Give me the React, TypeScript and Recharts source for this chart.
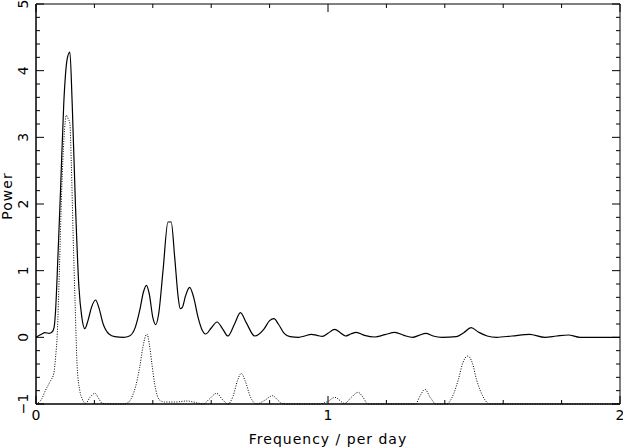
import { LineChart, Line, XAxis, YAxis, Label, ReferenceArea } from "recharts";

// power spectrum (solid)
const specFreq = [
  0.0, 0.02, 0.03, 0.045, 0.055, 0.062, 0.067, 0.075, 0.084, 0.095, 0.107, 0.116, 0.124, 0.135,
  0.147, 0.157, 0.167, 0.178, 0.19, 0.204, 0.215, 0.23, 0.25, 0.27, 0.3, 0.32, 0.34, 0.355,
  0.368, 0.378, 0.388, 0.4, 0.41, 0.42, 0.435, 0.452, 0.463, 0.475, 0.487, 0.494, 0.501, 0.512,
  0.526, 0.54, 0.555, 0.57, 0.581, 0.6, 0.62, 0.64, 0.657, 0.68, 0.7, 0.72, 0.749, 0.78,
  0.8, 0.815, 0.83, 0.85, 0.87, 0.9, 0.92, 0.943, 0.962, 0.981, 1.0, 1.023, 1.042, 1.06,
  1.078, 1.097, 1.125, 1.16, 1.195, 1.229, 1.26, 1.29, 1.312, 1.335, 1.36, 1.39, 1.44, 1.465,
  1.49, 1.515, 1.545, 1.577, 1.63, 1.69, 1.743, 1.783, 1.823, 1.863, 2.0,
];
const specPower = [
  0.0, 0.05, 0.07, 0.06, 0.08, 0.15, 0.4, 1.2, 2.2, 3.5, 4.18, 4.28, 3.5, 2.0,
  0.75, 0.3, 0.13, 0.25, 0.45, 0.56, 0.45, 0.2, 0.05, 0.01, 0.0, 0.02, 0.15, 0.4,
  0.68, 0.78, 0.65, 0.3, 0.19, 0.35, 1.0, 1.73, 1.73, 1.2, 0.6, 0.43, 0.45, 0.62,
  0.75, 0.6, 0.3, 0.1, 0.05, 0.14, 0.23, 0.12, 0.02, 0.2, 0.37, 0.22, 0.02, 0.12,
  0.25, 0.28, 0.2, 0.06, 0.01, 0.0, 0.02, 0.045, 0.03, 0.015, 0.06, 0.12, 0.07, 0.02,
  0.05, 0.075, 0.03, 0.005, 0.04, 0.075, 0.03, 0.0, 0.03, 0.06, 0.02, 0.0, 0.01, 0.07,
  0.145, 0.08, 0.02, 0.0, 0.02, 0.045, 0.0, 0.02, 0.035, 0.0, 0.0,
];

// spectral window (dotted, offset by -1)
const winFreq = [
  0.0, 0.02, 0.033, 0.05, 0.061, 0.067, 0.073, 0.08, 0.088, 0.096, 0.104, 0.11, 0.116, 0.121,
  0.127, 0.134, 0.141, 0.15, 0.158, 0.17, 0.185, 0.202, 0.215, 0.227, 0.26, 0.3, 0.318, 0.33,
  0.341, 0.355, 0.366, 0.375, 0.38, 0.388, 0.397, 0.406, 0.415, 0.423, 0.44, 0.48, 0.515, 0.55,
  0.572, 0.595, 0.618, 0.64, 0.657, 0.675, 0.69, 0.703, 0.716, 0.735, 0.755, 0.785, 0.81, 0.83,
  0.846, 0.97, 1.0, 1.023, 1.057, 1.08, 1.103, 1.12, 1.137, 1.3, 1.315, 1.332, 1.35, 1.37,
  1.406, 1.43, 1.446, 1.462, 1.478, 1.494, 1.509, 1.53, 1.554, 2.0,
];
const winPower = [
  -1.0, -0.92, -0.79, -0.65, -0.54, -0.3, 0.06, 1.0, 2.2, 3.0, 3.33, 3.28, 3.21, 2.6,
  1.56, 0.5, -0.44, -0.8, -0.92, -0.99, -0.9, -0.84, -0.92, -0.99, -1.0, -1.0, -0.97, -0.88,
  -0.74, -0.45, -0.15, 0.02, 0.05, -0.1, -0.4, -0.69, -0.87, -0.94, -0.97, -0.97, -0.955, -0.98,
  -1.0, -0.92, -0.84, -0.94, -1.0, -0.88, -0.65, -0.54, -0.65, -0.9, -1.0, -0.94, -0.876, -0.95,
  -1.0, -1.0, -0.96, -0.9, -0.99, -0.9, -0.825, -0.9, -1.0, -1.0, -0.88, -0.78, -0.9, -1.0,
  -1.0, -0.85, -0.64, -0.38, -0.28, -0.38, -0.64, -0.88, -1.0, -1.0,
];

const xTicks = [0, 0.2, 0.4, 0.6, 0.8, 1, 1.2, 1.4, 1.6, 1.8, 2];
const yTicks = [
  -1, -0.8, -0.6, -0.4, -0.2, 0, 0.2, 0.4, 0.6, 0.8, 1, 1.2, 1.4, 1.6, 1.8, 2,
  2.2, 2.4, 2.6, 2.8, 3, 3.2, 3.4, 3.6, 3.8, 4, 4.2, 4.4, 4.6, 4.8, 5,
];

const spectrum = specFreq.map((f, i) => ({ f, p: specPower[i] }));
const windowFn = winFreq.map((f, i) => ({ f, p: winPower[i] }));

const FONT = "DejaVu Sans";
const W = 623;
const H = 448;
// plot box edges (match the chart margins + axis sizes below)
const LEFT = 36;
const RIGHT = 620;
const TOP = 4;
const BOTTOM = 404;

const MAJOR = 8;
const MINOR = 4;
const isMajor = (v: number) => Math.abs(v - Math.round(v)) < 1e-6;
const tickLen = (v: number) => (isMajor(v) ? MAJOR : MINOR);

// x ticks: inward marks at bottom and top, label below
function XTick({ x, payload }: any) {
  const v = payload.value;
  const len = tickLen(v);
  return (
    <g>
      <line x1={x} y1={BOTTOM} x2={x} y2={BOTTOM - len} stroke="#000" />
      <line x1={x} y1={TOP} x2={x} y2={TOP + len} stroke="#000" />
      {isMajor(v) && (
        <text x={x} y={BOTTOM + 16} textAnchor="middle" fontSize={14} fontFamily={FONT} fill="#000">
          {v}
        </text>
      )}
    </g>
  );
}

// y ticks: inward marks at left and right, rotated label on the left
function YTick({ y, payload }: any) {
  const v = payload.value;
  const len = tickLen(v);
  const lx = LEFT - 8;
  return (
    <g>
      <line x1={LEFT} y1={y} x2={LEFT + len} y2={y} stroke="#000" />
      <line x1={RIGHT} y1={y} x2={RIGHT - len} y2={y} stroke="#000" />
      {isMajor(v) && (
        <text
          x={lx}
          y={y}
          transform={`rotate(-90 ${lx} ${y})`}
          textAnchor="middle"
          fontSize={14}
          fontFamily={FONT}
          fill="#000"
        >
          {v < 0 ? "\u2212" + Math.abs(v) : v}
        </text>
      )}
    </g>
  );
}

export default function App() {
  return (
    <div style={{ position: "absolute", left: 0, top: 0, background: "#fff" }}>
      <LineChart
        width={W}
        height={H}
        margin={{ top: TOP, right: W - RIGHT, bottom: 0, left: 0 }}
      >
        <XAxis
          dataKey="f"
          type="number"
          domain={[0, 2]}
          ticks={xTicks}
          interval={0}
          height={H - BOTTOM}
          tickLine={false}
          tick={<XTick />}
          axisLine={{ stroke: "#000" }}
        >
          <Label
            content={() => (
              <text
                x={(LEFT + RIGHT) / 2}
                y={BOTTOM + 40}
                textAnchor="middle"
                fontSize={14}
                letterSpacing={1}
                fontFamily={FONT}
                fill="#000"
              >
                Frequency / per day
              </text>
            )}
          />
        </XAxis>
        <YAxis
          type="number"
          domain={[-1, 5]}
          ticks={yTicks}
          interval={0}
          width={LEFT}
          tickLine={false}
          tick={<YTick />}
          axisLine={{ stroke: "#000" }}
        >
          <Label
            content={() => {
              const cx = 12;
              const cy = 196;
              return (
                <text
                  x={cx}
                  y={cy}
                  transform={`rotate(-90 ${cx} ${cy})`}
                  textAnchor="middle"
                  fontSize={14}
                  letterSpacing={1}
                  fontFamily={FONT}
                  fill="#000"
                >
                  Power
                </text>
              );
            }}
          />
        </YAxis>
        <ReferenceArea x1={0} x2={2} y1={-1} y2={5} fill="none" stroke="#000" strokeWidth={1} />
        <Line
          data={windowFn}
          dataKey="p"
          type="monotone"
          stroke="#000"
          strokeWidth={1}
          strokeDasharray="1 1.5"
          dot={false}
          activeDot={false}
          isAnimationActive={false}
        />
        <Line
          data={spectrum}
          dataKey="p"
          type="monotone"
          stroke="#000"
          strokeWidth={1.2}
          dot={false}
          activeDot={false}
          isAnimationActive={false}
        />
      </LineChart>
    </div>
  );
}
